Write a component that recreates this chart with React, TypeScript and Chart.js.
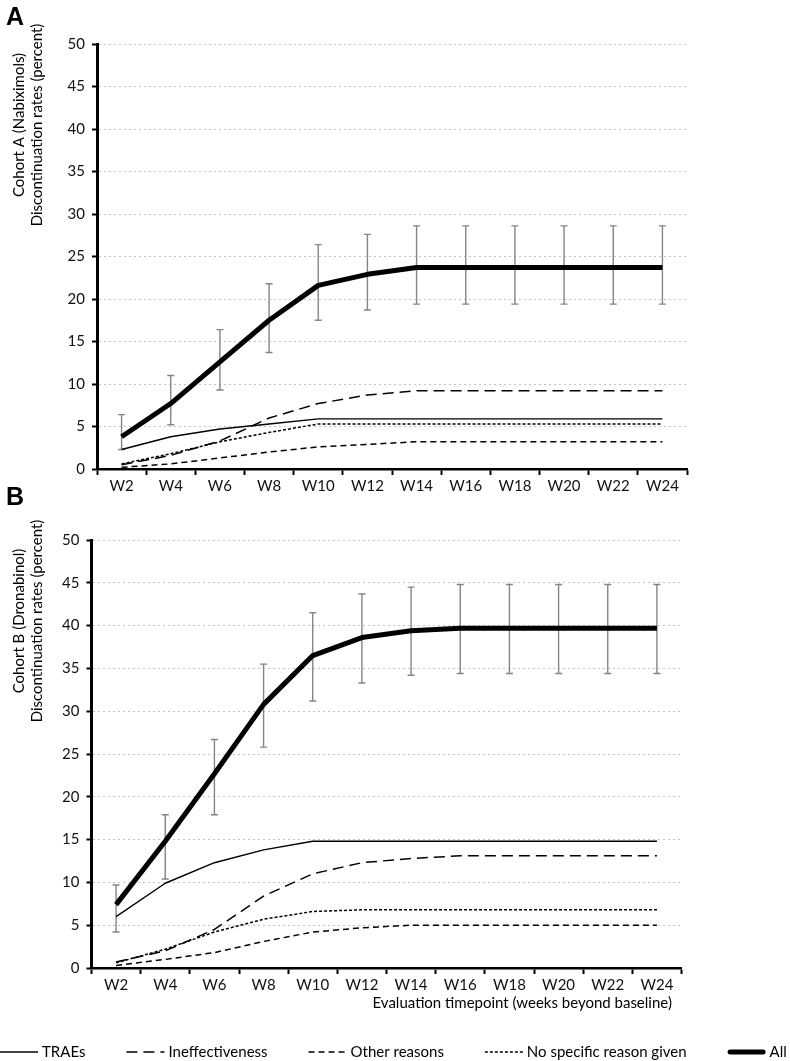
import React, { useEffect, useRef } from 'react';
import { Chart, registerables } from 'chart.js';

Chart.register(...registerables);

const FONT = 'Lato, "Open Sans", sans-serif';

const weeks = ['W2', 'W4', 'W6', 'W8', 'W10', 'W12', 'W14', 'W16', 'W18', 'W20', 'W22', 'W24'];
const yTicksMax = 50;
const yTickStep = 5;

// Cohort A (Nabiximols)
const traesA = [2.3, 3.8, 4.7, 5.3, 5.9, 5.9, 5.9, 5.9, 5.9, 5.9, 5.9, 5.9];
const ineffA = [0.5, 1.6, 3.3, 6.0, 7.7, 8.7, 9.2, 9.2, 9.2, 9.2, 9.2, 9.2];
const otherA = [0.2, 0.6, 1.3, 2.0, 2.6, 2.9, 3.2, 3.2, 3.2, 3.2, 3.2, 3.2];
const noSpecA = [0.6, 1.8, 3.2, 4.3, 5.3, 5.3, 5.3, 5.3, 5.3, 5.3, 5.3, 5.3];
const allA = [3.8, 7.7, 12.6, 17.5, 21.6, 22.9, 23.7, 23.7, 23.7, 23.7, 23.7, 23.7];
const allAUpper = [6.4, 11.0, 16.4, 21.8, 26.4, 27.6, 28.6, 28.6, 28.6, 28.6, 28.6, 28.6];
const allALower = [2.3, 5.2, 9.3, 13.7, 17.5, 18.7, 19.4, 19.4, 19.4, 19.4, 19.4, 19.4];

// Cohort B (Dronabinol)
const traesB = [6.0, 9.9, 12.3, 13.8, 14.8, 14.8, 14.8, 14.8, 14.8, 14.8, 14.8, 14.8];
const ineffB = [0.7, 2.0, 4.5, 8.4, 11.0, 12.3, 12.8, 13.1, 13.1, 13.1, 13.1, 13.1];
const otherB = [0.3, 1.0, 1.8, 3.1, 4.2, 4.7, 5.0, 5.0, 5.0, 5.0, 5.0, 5.0];
const noSpecB = [0.6, 2.2, 4.2, 5.7, 6.6, 6.8, 6.8, 6.8, 6.8, 6.8, 6.8, 6.8];
const allB = [7.4, 14.8, 22.7, 30.8, 36.5, 38.6, 39.4, 39.7, 39.7, 39.7, 39.7, 39.7];
const allBUpper = [9.7, 17.9, 26.7, 35.5, 41.5, 43.7, 44.5, 44.8, 44.8, 44.8, 44.8, 44.8];
const allBLower = [4.2, 10.4, 17.9, 25.8, 31.2, 33.3, 34.2, 34.4, 34.4, 34.4, 34.4, 34.4];

const seriesLabels = ['TRAEs', 'Ineffectiveness', 'Other reasons', 'No specific reason given', 'All'];
const titleA = ['Cohort A (Nabiximols)', 'Discontinuation rates (percent)'];
const titleB = ['Cohort B (Dronabinol)', 'Discontinuation rates (percent)'];
const xTitle = 'Evaluation timepoint (weeks beyond baseline)';

const styles = [
  { borderWidth: 1.4, borderDash: [] as number[] },
  { borderWidth: 1.5, borderDash: [11, 6] },
  { borderWidth: 1.5, borderDash: [6, 4] },
  { borderWidth: 1.5, borderDash: [3, 2] },
  { borderWidth: 5, borderDash: [] as number[] },
];

function makeDatasets(series: number[][]) {
  return series.map((data, i) => ({
    label: seriesLabels[i],
    data,
    borderColor: '#000',
    backgroundColor: '#000',
    borderWidth: styles[i].borderWidth,
    borderDash: styles[i].borderDash,
    borderCapStyle: 'butt' as const,
    borderJoinStyle: 'round' as const,
    pointRadius: 0,
    tension: 0,
    fill: false,
    order: i === 4 ? 0 : 1,
  }));
}

const errorBarsPlugin = {
  id: 'errorBars',
  beforeDatasetsDraw(chart: any, _a: any, opts: any) {
    const { ctx, scales } = chart;
    const x = scales.x;
    const y = scales.y;
    ctx.save();
    ctx.strokeStyle = '#858585';
    ctx.lineWidth = 1.4;
    (opts.upper as number[]).forEach((hi, i) => {
      const px = x.getPixelForValue(i);
      const yh = y.getPixelForValue(hi);
      const yl = y.getPixelForValue(opts.lower[i]);
      ctx.beginPath();
      ctx.moveTo(px, yh);
      ctx.lineTo(px, yl);
      ctx.moveTo(px - 3.5, yh);
      ctx.lineTo(px + 3.5, yh);
      ctx.moveTo(px - 3.5, yl);
      ctx.lineTo(px + 3.5, yl);
      ctx.stroke();
    });
    ctx.restore();
  },
};

const sideTitlePlugin = {
  id: 'sideTitle',
  afterDraw(chart: any, _a: any, opts: any) {
    const { ctx, chartArea } = chart;
    ctx.save();
    ctx.font = `15px ${FONT}`;
    ctx.fillStyle = '#000';
    ctx.textAlign = 'center';
    ctx.textBaseline = 'middle';
    (opts.lines as string[]).forEach((line, i) => {
      ctx.save();
      ctx.translate(opts.xs[i], chartArea.top + opts.offset);
      ctx.rotate(-Math.PI / 2);
      ctx.fillText(line, 0, 0);
      ctx.restore();
    });
    ctx.restore();
  },
};

const bottomPlugin = {
  id: 'bottomTexts',
  afterDraw(chart: any, _a: any, opts: any) {
    if (!opts || !opts.enabled) return;
    const { ctx, chartArea } = chart;
    ctx.save();
    // x-axis title
    ctx.font = `15px ${FONT}`;
    ctx.fillStyle = '#000';
    ctx.textBaseline = 'middle';
    ctx.textAlign = 'center';
    const cx = chartArea.left + (chartArea.right - chartArea.left) * opts.titleFrac;
    ctx.fillText(opts.title, cx, chartArea.bottom + opts.titleDy);
    // legend
    ctx.textAlign = 'left';
    let x = opts.startX;
    const ly = chartArea.bottom + opts.legendDy;
    chart.data.datasets.forEach((ds: any) => {
      ctx.beginPath();
      ctx.setLineDash(ds.borderDash || []);
      ctx.lineWidth = ds.borderWidth;
      ctx.strokeStyle = ds.borderColor;
      ctx.lineCap = ds.borderWidth > 3 ? 'round' : 'butt';
      const inset = ds.borderWidth > 3 ? 2.5 : 0;
      ctx.moveTo(x + inset, ly);
      ctx.lineTo(x + opts.lineLen - inset, ly);
      ctx.stroke();
      ctx.setLineDash([]);
      ctx.fillStyle = '#000';
      ctx.fillText(ds.label, x + opts.lineLen + opts.textGap, ly);
      x += opts.lineLen + opts.textGap + ctx.measureText(ds.label).width + opts.itemGap;
    });
    ctx.restore();
  },
};

function makeConfig(
  series: number[][],
  upper: number[],
  lower: number[],
  title: string[],
  yWidth: number,
  padding: { left: number; right: number; top: number; bottom: number },
  withBottom: boolean
): any {
  return {
    type: 'line',
    data: { labels: weeks, datasets: makeDatasets(series) },
    plugins: [errorBarsPlugin, sideTitlePlugin, bottomPlugin],
    options: {
      responsive: false,
      animation: false,
      layout: { padding },
      plugins: {
        legend: { display: false },
        tooltip: { enabled: false },
        errorBars: { upper, lower },
        sideTitle: { lines: title, xs: [19, 37], offset: 81 },
        bottomTexts: {
          enabled: withBottom,
          title: xTitle,
          titleFrac: 0.73,
          titleDy: 35,
          legendDy: 84,
          startX: 0,
          lineLen: 38,
          textGap: 4,
          itemGap: 41,
        },
      },
      scales: {
        x: {
          type: 'category',
          offset: true,
          ticks: {
            font: { family: FONT, size: 15 },
            color: '#111',
            padding: 2,
            maxRotation: 0,
            autoSkip: false,
          },
          grid: {
            display: true,
            offset: true,
            drawOnChartArea: false,
            drawTicks: true,
            tickLength: 6,
            tickWidth: 2,
            tickColor: '#000',
            color: '#000',
          },
          border: { display: true, color: '#000', width: 2.5 },
          afterFit: (s: any) => {
            s.height = 30;
          },
        },
        y: {
          min: 0,
          max: yTicksMax,
          ticks: {
            stepSize: yTickStep,
            font: { family: FONT, size: 15 },
            color: '#111',
            padding: 7,
          },
          grid: {
            display: true,
            color: '#c4c4c4',
            lineWidth: 1,
            drawTicks: true,
            tickLength: 5,
            tickWidth: 2,
            tickColor: '#000',
          },
          border: { display: true, color: '#000', width: 3, dash: [2, 3] },
          afterFit: (s: any) => {
            s.width = yWidth;
          },
        },
      },
    },
  };
}

export default function App() {
  const refA = useRef<HTMLCanvasElement | null>(null);
  const refB = useRef<HTMLCanvasElement | null>(null);

  useEffect(() => {
    document.body.style.margin = '0';
    const chartA = new Chart(
      refA.current as HTMLCanvasElement,
      makeConfig(
        [traesA, ineffA, otherA, noSpecA, allA],
        allAUpper,
        allALower,
        titleA,
        97,
        { left: 0, right: 103, top: 44, bottom: 1 },
        false
      )
    );
    const chartB = new Chart(
      refB.current as HTMLCanvasElement,
      makeConfig(
        [traesB, ineffB, otherB, noSpecB, allB],
        allBUpper,
        allBLower,
        titleB,
        91.5,
        { left: 0, right: 108.5, top: 40, bottom: 63 },
        true
      )
    );
    return () => {
      chartA.destroy();
      chartB.destroy();
    };
  }, []);

  const letter: React.CSSProperties = {
    position: 'absolute',
    left: 6,
    fontFamily: '"Liberation Sans", Arial, sans-serif',
    fontWeight: 'bold',
    fontSize: 25,
    lineHeight: '25px',
    color: '#000',
  };

  return (
    <div style={{ position: 'relative', width: 790, height: 1061, background: '#fff', overflow: 'hidden' }}>
      <canvas ref={refA} width={790} height={500} style={{ position: 'absolute', left: 0, top: 0, display: 'block' }} />
      <canvas ref={refB} width={790} height={561} style={{ position: 'absolute', left: 0, top: 500, display: 'block' }} />
      <div style={{ ...letter, top: 4 }}>A</div>
      <div style={{ ...letter, top: 484 }}>B</div>
    </div>
  );
}
